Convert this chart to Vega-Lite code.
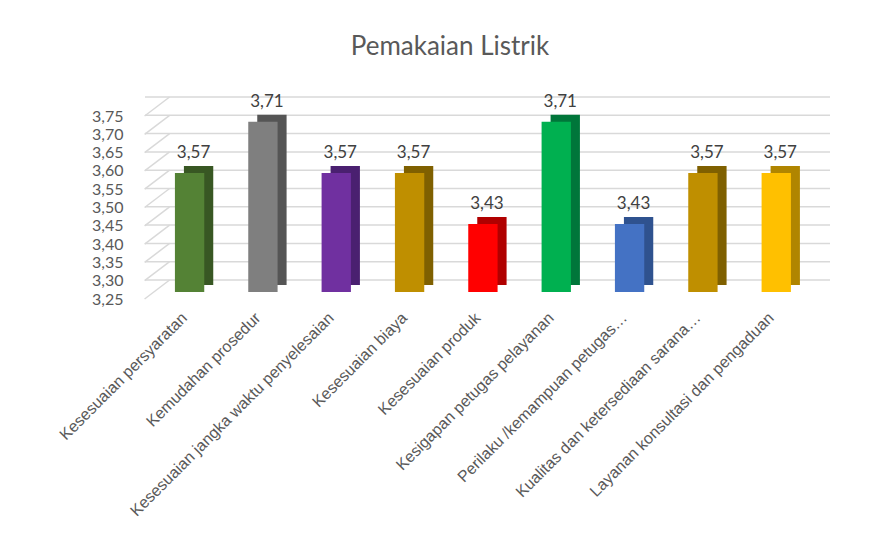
{
  "$schema": "https://vega.github.io/schema/vega-lite/v6.json",
  "autosize": {"type": "none"},
  "width": 660,
  "height": 183,
  "padding": {"left": 145, "top": 116, "right": 75, "bottom": 234},
  "background": "white",
  "title": {
    "text": "Pemakaian Listrik",
    "font": "Lato",
    "fontSize": 26,
    "fontWeight": "normal",
    "color": "#595959",
    "anchor": "middle",
    "dx": -25,
    "offset": 33
  },
  "config": {
    "view": {"stroke": null},
    "axisY": {"values": [3.25, 3.3, 3.35, 3.4, 3.45, 3.5, 3.55, 3.6, 3.65, 3.7, 3.75], "format": ".2f", "title": null,
      "domain": false, "ticks": false, "grid": false, "labelFont": "Lato", "labelFontSize": 16,
      "labelColor": "#595959", "labelPadding": 22, "labelOverlap": false, "labelBound": false, "labelFlush": false, "labelSeparation": 0},
    "locale": {"number": {"decimal": ",", "thousands": ".", "grouping": [3], "currency": ["Rp", ""]}}
  },
  "datasets": {
    "bars": [
      {"cat": "Kesesuaian persyaratan", "v": 3.57},
      {"cat": "Kemudahan prosedur", "v": 3.71},
      {"cat": "Kesesuaian jangka waktu penyelesaian", "v": 3.57},
      {"cat": "Kesesuaian biaya", "v": 3.57},
      {"cat": "Kesesuaian produk", "v": 3.43},
      {"cat": "Kesigapan petugas pelayanan", "v": 3.71},
      {"cat": "Perilaku /kemampuan petugas…", "v": 3.43},
      {"cat": "Kualitas dan ketersediaan sarana…", "v": 3.57},
      {"cat": "Layanan konsultasi dan pengaduan", "v": 3.57}
    ],
    "grid": [
      {"g": 3.25}, {"g": 3.30}, {"g": 3.35}, {"g": 3.40}, {"g": 3.45}, {"g": 3.50},
      {"g": 3.55}, {"g": 3.60}, {"g": 3.65}, {"g": 3.70}, {"g": 3.75}
    ]
  },
  "layer": [
    {
      "data": {"name": "grid"},
      "mark": {"type": "rule", "color": "#d9d9d9", "strokeWidth": 1.5, "xOffset": 25, "x2Offset": 25, "yOffset": -19},
      "encoding": {
        "y": {"field": "g", "type": "quantitative", "scale": {"domain": [3.25, 3.75], "zero": false, "nice": false},
          "axis": {"values": [3.25, 3.3, 3.35, 3.4, 3.45, 3.5, 3.55, 3.6, 3.65, 3.7, 3.75], "labelOverlap": false}}
      }
    },
    {
      "data": {"name": "grid"},
      "mark": {"type": "rule", "color": "#d9d9d9", "strokeWidth": 1.5, "xOffset": -45, "x2Offset": -20, "y2Offset": -19},
      "encoding": {
        "x": {"datum": "Kesesuaian persyaratan", "type": "nominal"},
        "x2": {"datum": "Kesesuaian persyaratan"},
        "y": {"field": "g", "type": "quantitative", "axis": {"values": [3.25, 3.3, 3.35, 3.4, 3.45, 3.5, 3.55, 3.6, 3.65, 3.7, 3.75], "labelOverlap": false}},
        "y2": {"field": "g"}
      }
    },
    {
      "data": {"name": "bars"},
      "mark": {"type": "bar", "xOffset": 9, "yOffset": -16, "y2Offset": -14},
      "encoding": {
        "x": {"field": "cat", "type": "nominal", "sort": null,
          "scale": {"paddingInner": 0.6, "paddingOuter": 0.3, "align": 0.68},
          "axis": {"title": null, "domain": false, "ticks": false, "labelAngle": -45, "labelFont": "Liberation Sans",
            "labelFontSize": 16, "labelColor": "#595959", "labelPadding": 16, "labelOffset": -5, "labelLimit": 0, "labelOverlap": false}},
        "y": {"field": "v", "type": "quantitative", "axis": {"values": [3.25, 3.3, 3.35, 3.4, 3.45, 3.5, 3.55, 3.6, 3.65, 3.7, 3.75], "labelOverlap": false}},
        "y2": {"datum": 3.25},
        "color": {"field": "cat", "type": "nominal", "legend": null,
          "scale": {"domain": ["Kesesuaian persyaratan", "Kemudahan prosedur", "Kesesuaian jangka waktu penyelesaian", "Kesesuaian biaya", "Kesesuaian produk", "Kesigapan petugas pelayanan", "Perilaku /kemampuan petugas…", "Kualitas dan ketersediaan sarana…", "Layanan konsultasi dan pengaduan"],
            "range": ["#385723", "#555555", "#4a2070", "#7f6000", "#b00000", "#00763a", "#2f528f", "#7f6000", "#b08500"]}}
      }
    },
    {
      "data": {"name": "bars"},
      "mark": {"type": "bar", "yOffset": -9, "y2Offset": -7},
      "encoding": {
        "x": {"field": "cat", "type": "nominal", "sort": null},
        "y": {"field": "v", "type": "quantitative", "axis": {"values": [3.25, 3.3, 3.35, 3.4, 3.45, 3.5, 3.55, 3.6, 3.65, 3.7, 3.75], "labelOverlap": false}},
        "y2": {"datum": 3.25},
        "color": {"field": "cat", "type": "nominal", "legend": null,
          "scale": {"domain": ["Kesesuaian persyaratan", "Kemudahan prosedur", "Kesesuaian jangka waktu penyelesaian", "Kesesuaian biaya", "Kesesuaian produk", "Kesigapan petugas pelayanan", "Perilaku /kemampuan petugas…", "Kualitas dan ketersediaan sarana…", "Layanan konsultasi dan pengaduan"],
            "range": ["#548235", "#7f7f7f", "#7030a0", "#bf8f00", "#ff0000", "#00b050", "#4472c4", "#bf8f00", "#ffc000"]}}
      }
    },
    {
      "data": {"name": "bars"},
      "mark": {"type": "text", "font": "Lato", "fontSize": 17, "color": "#404040", "baseline": "middle", "dx": 4, "dy": -29},
      "encoding": {
        "x": {"field": "cat", "type": "nominal", "sort": null},
        "y": {"field": "v", "type": "quantitative", "axis": {"values": [3.25, 3.3, 3.35, 3.4, 3.45, 3.5, 3.55, 3.6, 3.65, 3.7, 3.75], "labelOverlap": false}},
        "text": {"field": "v", "type": "quantitative", "format": ".2f"}
      }
    }
  ],
  "resolve": {"scale": {"color": "independent"}}
}
